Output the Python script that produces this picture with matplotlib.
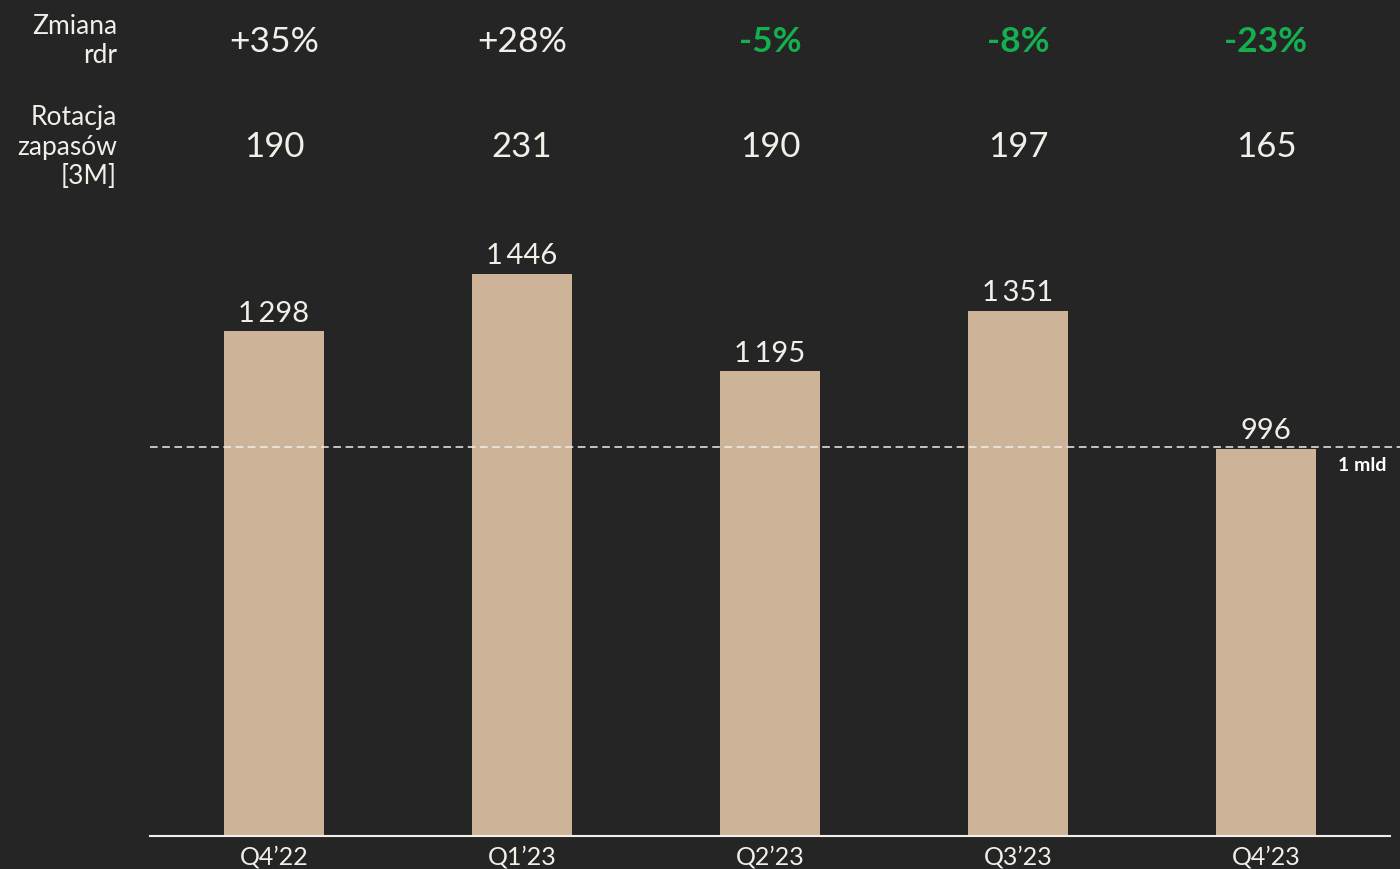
import numpy as np
import matplotlib.pyplot as plt
from matplotlib import transforms

# data
quarters = ["Q4\u201922", "Q1\u201923", "Q2\u201923", "Q3\u201923", "Q4\u201923"]
inventory = [1298, 1446, 1195, 1351, 996]
yoy_change = ["+35%", "+28%", "-5%", "-8%", "-23%"]
rotation_3m = [190, 231, 190, 197, 165]
threshold = 1000

bg = "#252525"
bar_col = "#CDB398"
txt = "#F2EEE8"
green = "#14B04F"

plt.rcParams['font.family'] = ['Lato', 'DejaVu Sans']

fig = plt.figure(figsize=(14, 8.7), dpi=100, facecolor=bg)
ax = fig.add_axes([150 / 1400, 33 / 870, 1240 / 1400, 622 / 870])
ax.set_facecolor(bg)

x = np.arange(len(quarters))
ax.bar(x, inventory, width=0.4, color=bar_col, zorder=2)
ax.set_xlim(-0.5, 4.5)
ax.set_ylim(0, 1600)

for xi, v in zip(x, inventory):
    lab = f"{v:,}".replace(",", "\u2009")
    ax.text(xi, v + 15, lab, ha="center", va="bottom", color=txt,
            fontsize=21)

# 1 mld reference line
ax.axhline(threshold, xmin=0, xmax=1.008, color=txt, lw=1.1,
           ls=(0, (5, 3)), clip_on=False, zorder=3)
ax.text(1362 / 1400, 1 - 466 / 870, "1 mld", transform=fig.transFigure,
        ha="center", va="center", color="white", fontsize=14, fontweight="bold")

# axes styling
for s in ["top", "right", "left"]:
    ax.spines[s].set_visible(False)
ax.spines["bottom"].set_color(txt)
ax.spines["bottom"].set_linewidth(1.5)
ax.set_yticks([])
ax.set_xticks(x)
ax.set_xticklabels(quarters, fontsize=18, color=txt)
ax.tick_params(axis="x", length=0, pad=6)

# top rows
trans = transforms.blended_transform_factory(ax.transData, fig.transFigure)
for xi, ch in zip(x, yoy_change):
    neg = ch.startswith("-")
    ax.text(xi, 1 - 42 / 870, ch, transform=trans, ha="center", va="center",
            fontsize=25.5, color=green if neg else txt,
            fontweight="bold" if neg else "normal")
for xi, r in zip(x, rotation_3m):
    ax.text(xi, 1 - 147 / 870, str(r), transform=trans, ha="center",
            va="center", fontsize=25, color=txt)

fig.text(117 / 1400, 1 - 41 / 870, "Zmiana\nrdr", ha="right", va="center",
         color=txt, fontsize=19, linespacing=1.2)
fig.text(117 / 1400, 1 - 147 / 870, "Rotacja\nzapasów\n[3M]", ha="right",
         va="center", color=txt, fontsize=19, linespacing=1.2)

fig.savefig("out.png", dpi=100, facecolor=bg)
